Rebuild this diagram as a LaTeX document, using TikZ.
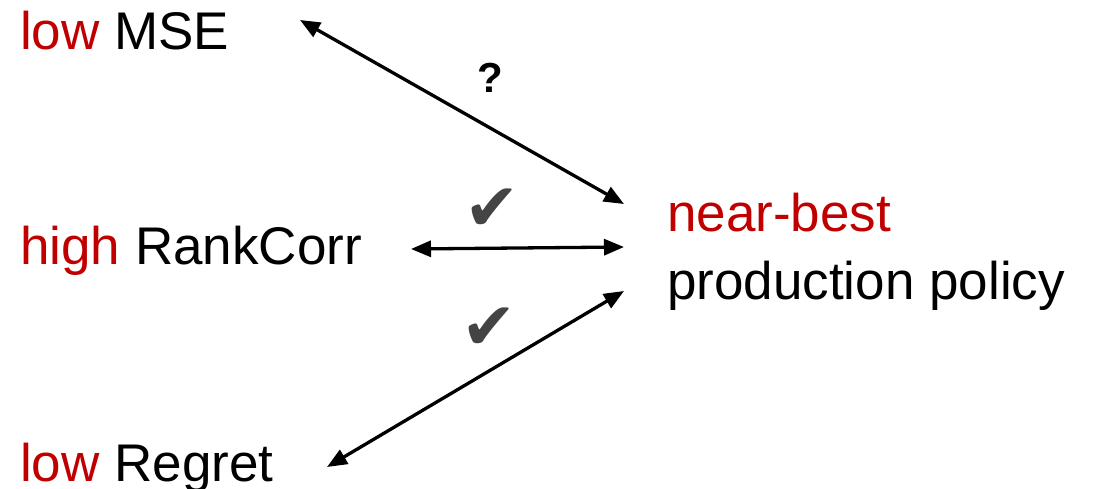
\documentclass[tikz,border=0pt]{standalone}
\usepackage{fontspec}
\setmainfont{Liberation Sans}
\newfontfamily\symfont{DejaVu Sans}
\usetikzlibrary{arrows.meta}
\definecolor{lowred}{RGB}{192,0,0}
\definecolor{checkgray}{RGB}{68,68,68}
\tikzset{
  lbl/.style={anchor=base west, inner sep=0pt, font=\fontsize{53}{60}\selectfont},
  conn/.style={line width=3.3pt, {Triangle[length=20pt,width=16pt]}-{Triangle[length=20pt,width=16pt]}},
  chk/.style={inner sep=0pt, text=checkgray, font=\symfont\fontsize{66}{70}\selectfont},
  qm/.style={inner sep=0pt, font=\bfseries\fontsize{42}{46}\selectfont}
}
\begin{document}
\begin{tikzpicture}[x=1pt,y=-1pt]
\useasboundingbox (0,0) rectangle (1096,489);
\node[lbl] (mse) at (20,50) {\textcolor{lowred}{low} MSE};
\node[lbl] (rank) at (20,265) {\textcolor{lowred}{high} RankCorr};
\node[lbl] (regret) at (20,481) {\textcolor{lowred}{low} Regret};
\node[lbl] (near) at (667,232) {\textcolor{lowred}{near-best}};
\node[lbl] (prod) at (667,300) {production policy};
\coordinate (mseEnd) at (300,20);
\coordinate (rankEnd) at (411,249);
\coordinate (regEnd) at (327,467);
\coordinate (pA) at (624,204);
\coordinate (pB) at (624,247);
\coordinate (pC) at (624,291);
\draw[conn] (mseEnd) -- (pA);
\draw[conn] (rankEnd) -- (pB);
\draw[conn] (regEnd) -- (pC);
\node[qm] (q) at (490,78) {?};
\node[chk] (c1) at (492,210) {✔};
\node[chk] (c2) at (489,329) {✔};
\end{tikzpicture}
\end{document}
